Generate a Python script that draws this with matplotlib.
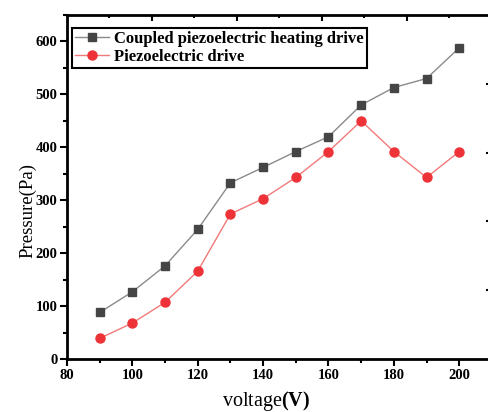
import matplotlib
matplotlib.use("Agg")
import matplotlib.pyplot as plt
from matplotlib.ticker import MultipleLocator, FixedLocator

# --- data ---
voltage = [90, 100, 110, 120, 130, 140, 150, 160, 170, 180, 190, 200]
coupled = [88, 127, 176, 245, 333, 362, 392, 420, 480, 513, 530, 588]
piezo = [39, 68, 107, 166, 274, 303, 343, 392, 450, 392, 343, 392]

plt.rcParams['font.family'] = 'Liberation Serif'
plt.rcParams['mathtext.fontset'] = 'custom'
plt.rcParams['mathtext.rm'] = 'Liberation Serif'
plt.rcParams['mathtext.bf'] = 'Liberation Serif:bold'

AX_RECT = [0.137, 0.1286, 0.869, 0.835]

fig = plt.figure(figsize=(4.89, 4.12), dpi=100, facecolor='white')
ax = fig.add_axes(AX_RECT)
ax.patch.set_visible(False)

ax.plot(voltage, coupled, color='#8a8a8a', lw=1.0, marker='s', markersize=5.8,
        markerfacecolor='#454545', markeredgecolor='#454545',
        label='Coupled piezoelectric heating drive')
ax.plot(voltage, piezo, color='#f07a7a', lw=1.0, marker='o', markersize=6.5,
        markerfacecolor='#ee3338', markeredgecolor='#ee3338',
        label='Piezoelectric drive')

ax.set_xlim(80, 210)
ax.set_ylim(0, 650)
ax.xaxis.set_major_locator(FixedLocator([80, 100, 120, 140, 160, 180, 200]))
ax.xaxis.set_minor_locator(MultipleLocator(10))
ax.yaxis.set_major_locator(MultipleLocator(100))
ax.yaxis.set_minor_locator(MultipleLocator(50))
ax.tick_params(which='both', direction='out', width=1.5, top=False, right=False)
ax.tick_params(which='major', length=5, labelsize=10.5, pad=2)
ax.tick_params(which='minor', length=3)
for lbl in ax.get_xticklabels() + ax.get_yticklabels():
    lbl.set_fontweight('bold')

for sp in ax.spines.values():
    sp.set_linewidth(2)

ax.set_ylabel('Pressure(Pa)', fontsize=13.5)
ax.yaxis.set_label_coords(-0.073, 0.433)
ax.set_xlabel(r'voltage$\mathbf{(V)}$', fontsize=14.5)
ax.xaxis.set_label_coords(0.468, -0.086)

# frame ticks along top and right: ten divisions each, inward, drawn under the data axes
frame = fig.add_axes(AX_RECT, label='frame')
frame.set_zorder(ax.get_zorder() - 1)
frame.patch.set_visible(False)
for sp in frame.spines.values():
    sp.set_visible(False)
frame.set_xlim(0, 10)
frame.set_ylim(0, 10)
frame.xaxis.set_ticks_position('top')
frame.yaxis.set_ticks_position('right')
frame.set_xticks([2, 4, 6, 8])
frame.set_xticks([1, 3, 5, 7, 9], minor=True)
frame.set_yticks([2, 4, 6, 8])
frame.set_yticks([1, 3, 5, 7, 9], minor=True)
frame.tick_params(which='both', direction='in', width=1.5,
                  labeltop=False, labelbottom=False, labelleft=False, labelright=False)
frame.tick_params(which='major', length=4.5)
frame.tick_params(which='minor', length=2.5)

leg = ax.legend(loc='upper left', bbox_to_anchor=(0.012, 0.963), fancybox=False,
                framealpha=1, edgecolor='black', borderpad=0.2, handlelength=2.0,
                handletextpad=0.3, labelspacing=0.1, borderaxespad=0,
                prop={'family': 'Liberation Serif', 'weight': 'bold', 'size': 12})
leg.get_frame().set_linewidth(1.5)

fig.savefig('out.png', dpi=100, facecolor='white')
